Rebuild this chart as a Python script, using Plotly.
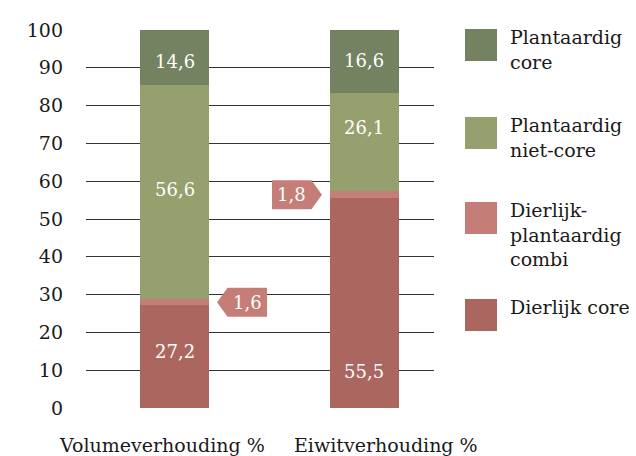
import plotly.graph_objects as go

categories = ["Volumeverhouding %", "Eiwitverhouding %"]
series_names = ["Dierlijk core", "Dierlijk-<br>plantaardig<br>combi", "Plantaardig<br>niet-core", "Plantaardig<br>core"]
dierlijk_core = [27.2, 55.5]
combi = [1.6, 1.8]
plant_niet_core = [56.6, 26.1]
plant_core = [14.6, 16.6]
y_ticks = [0, 10, 20, 30, 40, 50, 60, 70, 80, 90, 100]

colors = ["#AB675F", "#C57E77", "#96A06E", "#748261"]
FONT = "DejaVu Serif"
series = [dierlijk_core, combi, plant_niet_core, plant_core]

x_pos = list(range(len(categories)))
bar_w = 0.363

fig = go.Figure()
for name, vals, col in zip(series_names, series, colors):
    fig.add_trace(go.Bar(x=x_pos, y=vals, name=name, marker=dict(color=col, line=dict(width=0)),
                         width=bar_w, showlegend=False, hoverinfo="skip"))

def fmt(v):
    return f"{v:.1f}".replace(".", ",")

annotations = []
shapes = []
# in-bar labels (series index, category index, yshift)
label_shifts = {(0, 0): 5, (2, 0): 3, (3, 0): -4, (0, 1): -68, (2, 1): 15, (3, 1): 1}
for ci in x_pos:
    base = 0
    for si, vals in enumerate(series):
        v = vals[ci]
        if (si, ci) in label_shifts:
            annotations.append(dict(x=ci, y=base + v / 2, xref="x", yref="y", text=fmt(v), showarrow=False,
                                    yshift=label_shifts[(si, ci)],
                                    font=dict(family=FONT, size=18, color="#ffffff")))
        base += v

# callout tags for the combi segment
tag_h = 3.84
for ci in x_pos:
    yc = dierlijk_core[ci] + combi[ci] / 2
    direction = 1 if ci == 0 else -1
    tip = ci + direction * 0.224
    notch = tip + direction * 0.055
    far = tip + direction * 0.263
    path = (f"M {tip},{yc} L {notch},{yc + tag_h} L {far},{yc + tag_h} "
            f"L {far},{yc - tag_h} L {notch},{yc - tag_h} Z")
    shapes.append(dict(type="path", path=path, xref="x", yref="y", fillcolor=colors[1],
                       line=dict(width=0), layer="above"))
    annotations.append(dict(x=(notch + far) / 2, y=yc, xref="x", yref="y", text=fmt(combi[ci]),
                            showarrow=False, font=dict(family=FONT, size=18, color="#ffffff")))

# category labels
cat_shift = [-13, 22]
for ci, cat in enumerate(categories):
    annotations.append(dict(x=ci, y=0, xref="x", yref="paper", yanchor="middle", yshift=-37,
                            xshift=cat_shift[ci], text=cat, showarrow=False,
                            font=dict(family=FONT, size=19, color="#1a1a1a")))

# custom legend (top to bottom)
legend_order = [3, 2, 1, 0]
legend_top_px = [29, 117, 202, 299]
W, H = 636, 456
ml, mr, mt, mb = 86, 202, 30, 48
ph = H - mt - mb
pw = W - ml - mr
def px_to_paper_y(py):
    return (H - mb - py) / ph
def px_to_paper_x(px):
    return (px - ml) / pw
for idx, top in zip(legend_order, legend_top_px):
    shapes.append(dict(type="rect", xref="paper", yref="paper",
                       x0=px_to_paper_x(465), x1=px_to_paper_x(497),
                       y0=px_to_paper_y(top + 32), y1=px_to_paper_y(top),
                       fillcolor=colors[idx], line=dict(width=0)))
    annotations.append(dict(x=px_to_paper_x(508), y=px_to_paper_y(top - 5), xref="paper", yref="paper",
                            xanchor="left", yanchor="top", align="left", text=series_names[idx],
                            showarrow=False, font=dict(family=FONT, size=19, color="#1a1a1a")))

fig.update_layout(
    barmode="stack",
    width=W, height=H,
    margin=dict(l=ml, r=mr, t=mt, b=mb),
    plot_bgcolor="white", paper_bgcolor="white",
    bargap=0,
    shapes=shapes, annotations=annotations,
    xaxis=dict(range=[-0.466, 1.366], showticklabels=False, showgrid=False, zeroline=False,
               ticks="", fixedrange=True),
    yaxis=dict(range=[0, 100], tickvals=y_ticks, ticktext=[str(t) for t in y_ticks],
               showgrid=True, gridcolor="#333333", gridwidth=1, zeroline=False,
               tickfont=dict(family=FONT, size=19, color="#1a1a1a"), ticks="",
               ticklabelstandoff=22),
)
fig.write_html("out.html")
